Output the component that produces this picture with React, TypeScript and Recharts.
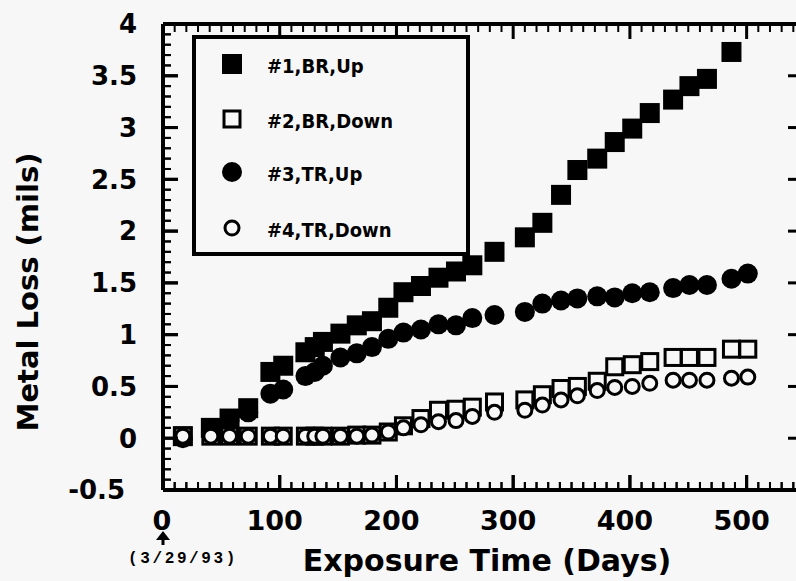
import React from 'react'
import { ScatterChart, Scatter, XAxis, YAxis, Legend, Label } from 'recharts'

// exposure days (measurement dates, day 0 = 3/29/93)
const days = [17, 41, 57, 73, 92, 103, 122, 130, 137, 152, 166, 179, 193, 206, 221, 236, 251, 265, 284, 310, 325, 341, 355, 372, 387, 402, 417, 437, 451, 466, 487, 501]

// metal loss, mils
const brUp = [0.02, 0.1, 0.19, 0.29, 0.64, 0.7, 0.83, 0.88, 0.93, 1.01, 1.09, 1.13, 1.26, 1.41, 1.47, 1.55, 1.61, 1.67, 1.8, 1.94, 2.08, 2.35, 2.59, 2.7, 2.86, 2.99, 3.14, 3.27, 3.4, 3.47, 3.73, null]
const brDown = [0.02, 0.02, 0.02, 0.02, 0.02, 0.02, 0.02, 0.02, 0.02, 0.02, 0.03, 0.03, 0.06, 0.12, 0.19, 0.27, 0.28, 0.3, 0.35, 0.37, 0.42, 0.48, 0.5, 0.55, 0.69, 0.71, 0.74, 0.78, 0.78, 0.78, 0.86, 0.86]
const trUp = [0, 0.05, 0.17, 0.25, 0.43, 0.47, 0.6, 0.64, 0.7, 0.78, 0.82, 0.88, 0.96, 1.02, 1.05, 1.1, 1.09, 1.16, 1.19, 1.22, 1.3, 1.33, 1.35, 1.37, 1.36, 1.4, 1.41, 1.45, 1.48, 1.48, 1.54, 1.59]
const trDown = [0.02, 0.02, 0.02, 0.02, 0.02, 0.02, 0.02, 0.02, 0.02, 0.02, 0.02, 0.03, 0.06, 0.1, 0.13, 0.16, 0.17, 0.21, 0.25, 0.27, 0.32, 0.37, 0.41, 0.46, 0.49, 0.5, 0.53, 0.56, 0.56, 0.56, 0.58, 0.59]

const seriesNames = ['#1,BR,Up', '#2,BR,Down', '#3,TR,Up', '#4,TR,Down']

// axis ticks: majors labelled, minors every 10 days / 0.1 mil
const xMajor = [0, 100, 200, 300, 400, 500]
const yMajor = [-0.5, 0, 0.5, 1, 1.5, 2, 2.5, 3, 3.5, 4]
const xTicks = Array.from({ length: 56 }, (_, i) => i * 10)
const yTicks = Array.from({ length: 46 }, (_, i) => Math.round((-0.5 + i * 0.1) * 10) / 10)
const X_DOMAIN: [number, number] = [0, 550]
const Y_DOMAIN: [number, number] = [-0.5, 4]

const BG = '#f7f7f7'
const FONT = "'DejaVu Sans', sans-serif"

function toPoints(vals: (number | null)[]) {
  return days.map((d, i) => ({ x: d, y: vals[i] })).filter(p => p.y != null)
}

const isXMajor = (v: number) => xMajor.includes(v)
const isYMajor = (v: number) => yMajor.some(m => Math.abs(m - v) < 1e-6)

function BottomTick({ x, y, payload }: any) {
  const v = payload.value
  const major = isXMajor(v)
  const len = major ? 15 : 8, w = major ? 3 : 2
  return (
    <g>
      <rect x={x - w / 2} y={y - len} width={w} height={len} fill="#000" />
      {major && (
        <text x={x + (v === 0 ? -1 : -5)} y={y + 40} textAnchor="middle" fontFamily={FONT} fontWeight="bold" fontSize={27} fill="#000">{v}</text>
      )}
      {v === 0 && (
        <g>
          <path d={`M${x},${y + 41} L${x - 7},${y + 50} L${x + 7},${y + 50} Z`} fill="#000" />
          <rect x={x - 1.5} y={y + 49} width={3} height={6} fill="#000" />
          <text x={x + 20} y={y + 73} textAnchor="middle" fontFamily="'Liberation Mono', 'DejaVu Sans Mono', monospace" fontWeight="bold" fontSize={16} letterSpacing={2.6} fill="#000">(3/29/93)</text>
        </g>
      )}
    </g>
  )
}

function LeftTick({ x, y, payload }: any) {
  const v = payload.value
  const major = isYMajor(v)
  const len = major ? 15 : 8, w = major ? 3 : 2
  return (
    <g>
      <rect x={x} y={y - w / 2} width={len} height={w} fill="#000" />
      {major && (
        <text x={x - 26 - (v < 0 ? 12 : 0)} y={y} dy="0.36em" textAnchor="end" fontFamily={FONT} fontWeight="bold" fontSize={26} fill="#000">{v}</text>
      )}
    </g>
  )
}

// inward tick marks on the frame, placed through the chart scales
const BottomMark = (p: any) => {
  const major = isXMajor(p.payload.x)
  const len = major ? 15 : 8, w = major ? 3 : 2
  return <rect x={p.cx - w / 2} y={p.cy - len} width={w} height={len} fill="#000" />
}
const TopMark = (p: any) => {
  const major = isXMajor(p.payload.x)
  const len = major ? 15 : 8, w = major ? 3 : 2
  return <rect x={p.cx - w / 2} y={p.cy} width={w} height={len} fill="#000" />
}
const LeftMark = (p: any) => {
  const major = isYMajor(p.payload.y)
  const len = major ? 15 : 8, w = major ? 3 : 2
  return <rect x={p.cx} y={p.cy - w / 2} width={len} height={w} fill="#000" />
}
const RightMark = (p: any) => {
  const major = isYMajor(p.payload.y)
  return major
    ? <rect x={p.cx - 17} y={p.cy - 1.5} width={17} height={3} fill="#000" />
    : <rect x={p.cx - 7} y={p.cy - 0.5} width={7} height={1} fill="#aaa" />
}

function XTitle({ viewBox }: any) {
  const { x, y, width } = viewBox
  return (
    <text x={x + width / 2 + 3} y={y + 81} textAnchor="middle" fontFamily={FONT} fontWeight="bold" fontSize={30} fill="#000">Exposure Time (Days)</text>
  )
}

function YTitle({ viewBox }: any) {
  const { x, y, height } = viewBox
  const cx = x + 38
  const cy = y + height / 2 + 35
  return (
    <text x={cx} y={cy} transform={`rotate(-90 ${cx} ${cy})`} textAnchor="middle" fontFamily={FONT} fontWeight="bold" fontSize={29} fill="#000">Metal Loss (mils)</text>
  )
}

const FilledSquare = (p: any) => <rect x={p.cx - 10} y={p.cy - 10} width={20} height={20} fill="#000" />
const OpenSquare = (p: any) => <rect x={p.cx - 8} y={p.cy - 8} width={16} height={16} fill={BG} stroke="#000" strokeWidth={3} />
const FilledCircle = (p: any) => <circle cx={p.cx} cy={p.cy} r={10} fill="#000" />
const OpenCircle = (p: any) => <circle cx={p.cx} cy={p.cy} r={7} fill={BG} stroke="#000" strokeWidth={3} />

const markers = [FilledSquare, OpenSquare, FilledCircle, OpenCircle]

function LegendBox() {
  const rowY = [25, 80, 133, 189]
  return (
    <div style={{ width: 278, height: 221, boxSizing: 'border-box', border: '4px solid #000', background: BG }}>
      <svg width={270} height={213} style={{ display: 'block' }}>
        {seriesNames.map((name, i) => {
          const M = markers[i]
          return (
            <g key={name}>
              <M cx={36} cy={rowY[i]} />
              <text x={71} y={rowY[i] + 9} fontFamily="'DejaVu Sans Condensed', 'DejaVu Sans', sans-serif" fontWeight="bold" fontSize={20} fill="#000">{name}</text>
            </g>
          )
        })}
      </svg>
    </div>
  )
}

export default function App() {
  const seriesData = [brUp, brDown, trUp, trDown].map(toPoints)
  const frameMarks = [
    { data: xTicks.map(v => ({ x: v, y: Y_DOMAIN[0] })), shape: BottomMark },
    { data: xTicks.map(v => ({ x: v, y: Y_DOMAIN[1] })), shape: TopMark },
    { data: yTicks.map(v => ({ x: X_DOMAIN[0], y: v })), shape: LeftMark },
    { data: yTicks.map(v => ({ x: X_DOMAIN[1], y: v })), shape: RightMark },
  ]
  return (
    <div style={{ position: 'absolute', left: 0, top: 0, width: 796, height: 581, overflow: 'hidden', background: BG }}>
      <ScatterChart width={830} height={581} margin={{ top: 23, right: 24, bottom: 90, left: 0 }}>
        <XAxis
          type="number" dataKey="x" domain={X_DOMAIN} ticks={xTicks} interval={0}
          height={1} tickSize={0} tickMargin={0} tick={<BottomTick />}
          axisLine={{ stroke: '#000', strokeWidth: 4 }} tickLine={false}
        >
          <Label content={<XTitle />} />
        </XAxis>
        <XAxis
          xAxisId="top" orientation="top" type="number" domain={X_DOMAIN}
          height={1} tick={false} tickLine={false}
          axisLine={{ stroke: '#000', strokeWidth: 4 }}
        />
        <YAxis
          type="number" dataKey="y" domain={Y_DOMAIN} ticks={yTicks} interval={0}
          width={163} tickSize={0} tickMargin={0} tick={<LeftTick />}
          axisLine={{ stroke: '#000', strokeWidth: 4 }} tickLine={false}
        >
          <Label content={<YTitle />} />
        </YAxis>
        <YAxis
          yAxisId="right" orientation="right" type="number" domain={Y_DOMAIN}
          width={1} tick={false} tickLine={false}
          axisLine={{ stroke: '#000', strokeWidth: 4 }}
        />
        <Legend
          layout="horizontal" verticalAlign="middle" align="center"
          content={<LegendBox />}
          wrapperStyle={{ left: 192, top: 35, width: 278, height: 221 }}
        />
        {seriesData.map((pts, i) => (
          <Scatter key={seriesNames[i]} name={seriesNames[i]} data={pts} shape={markers[i]} isAnimationActive={false} />
        ))}
        {frameMarks.map((m, i) => (
          <Scatter key={`frame-${i}`} data={m.data} shape={m.shape} legendType="none" isAnimationActive={false} />
        ))}
      </ScatterChart>
    </div>
  )
}
